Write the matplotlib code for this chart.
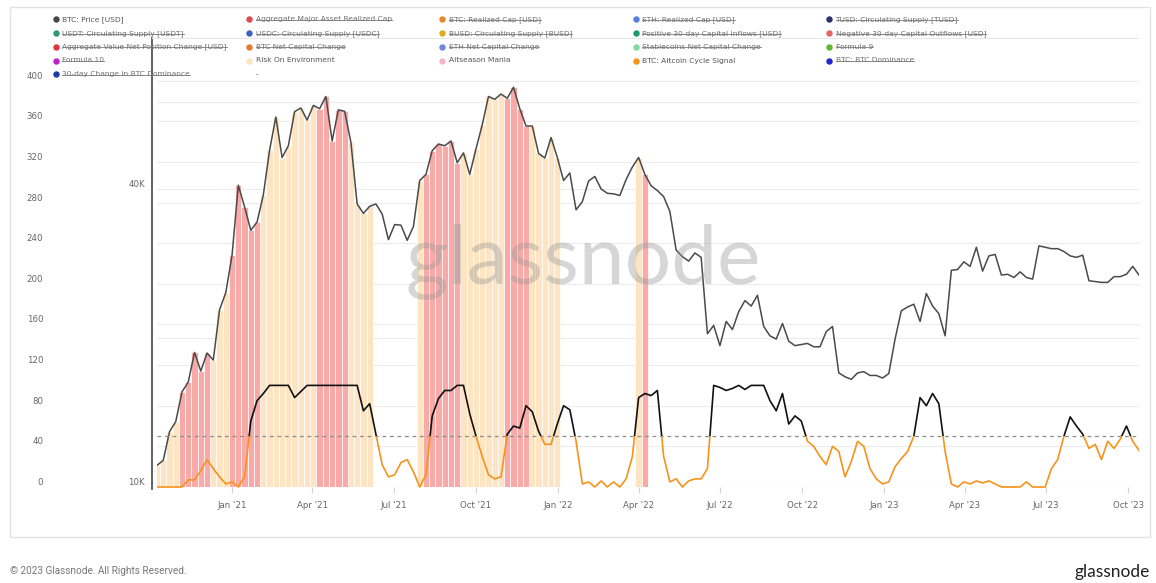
import matplotlib.pyplot as plt
import matplotlib.dates as mdates
import numpy as np
import pandas as pd
from matplotlib.lines import Line2D
from matplotlib.patches import Rectangle
from matplotlib.ticker import NullLocator
from matplotlib.transforms import Bbox, TransformedBbox

W, H = 1156, 583

# weekly samples, starting 2020-10-09
start_date = "2020-10-09"
btc_price = [
    11060, 11320, 12930, 13560, 15570, 16300, 18700, 17150, 18650, 18050,
    22800, 24700, 29400, 40700, 36800, 33000, 34300, 38900, 47900, 55900,
    46300, 48900, 57300, 58300, 55100, 59000, 58100, 61500, 50000, 57800,
    57400, 49700, 37300, 35700, 36900, 37300, 35600, 31600, 33900, 33800,
    31500, 33600, 41600, 42800, 47800, 49300, 48900, 50000, 45200, 47300,
    42800, 48200, 53900, 61500, 60700, 62200, 61000, 64200, 58100, 53600,
    53600, 47200, 46200, 50800, 46300, 41600, 43100, 36300, 37700, 41500,
    42400, 40000, 39200, 39100, 38800, 41800, 44300, 46300, 42800, 40600,
    39700, 38600, 36000, 30100, 29200, 28600, 29700, 29100, 20400, 21200,
    19300, 21600, 20800, 22600, 23800, 23200, 24400, 21100, 20200, 19900,
    21400, 19700, 19300, 19400, 19500, 19200, 19200, 20600, 21100, 17000,
    16700, 16500, 17000, 17100, 16800, 16800, 16600, 16950, 19900, 22700,
    23100, 23400, 21600, 24600, 23200, 22400, 20200, 27400, 27500, 28500,
    27900, 30500, 27300, 29300, 29500, 26800, 26900, 26500, 27200, 26500,
    26300, 30700, 30500, 30300, 30300, 29900, 29300, 29100, 29400, 26100,
    26000, 25900, 25900, 26600, 26600, 26900, 27900, 26800,
]
cycle_signal = [
    0, 0, 0, 0, 0, 7, 7, 16, 27, 18,
    10, 3, 5, 0, 10, 65, 85, 92, 100, 100,
    100, 100, 88, 94, 100, 100, 100, 100, 100, 100,
    100, 100, 100, 75, 82, 52, 22, 10, 12, 24,
    27, 15, 0, 12, 70, 87, 95, 95, 100, 100,
    72, 50, 30, 12, 8, 10, 52, 60, 58, 80,
    74, 55, 42, 42, 62, 80, 76, 45, 3, 5,
    0, 6, 0, 5, 0, 8, 30, 88, 92, 90,
    95, 30, 5, 8, 0, 6, 8, 8, 18, 100,
    98, 95, 97, 100, 96, 100, 100, 100, 85, 75,
    92, 62, 70, 65, 45, 40, 30, 22, 40, 35,
    10, 25, 45, 40, 18, 8, 3, 5, 20, 28,
    35, 50, 88, 80, 92, 82, 35, 3, 0, 5,
    3, 6, 4, 6, 3, 0, 0, 0, 0, 5,
    0, 0, 0, 18, 27, 50, 69, 60, 52, 38,
    42, 27, 45, 38, 47, 60, 45, 36,
]
risk_on_weeks = [
    ("2020-10-09", "2020-10-30"), ("2020-12-11", "2020-12-25"),
    ("2021-02-05", "2021-04-02"), ("2021-05-14", "2021-06-04"),
    ("2021-07-30", "2021-07-30"), ("2021-09-17", "2021-10-29"),
    ("2021-12-03", "2021-12-31"), ("2022-04-01", "2022-04-01"),
]
mania_weeks = [
    ("2020-11-06", "2020-12-04"), ("2021-01-01", "2021-01-29"),
    ("2021-04-09", "2021-05-07"), ("2021-08-06", "2021-09-10"),
    ("2021-11-05", "2021-11-26"), ("2022-04-08", "2022-04-08"),
]
signal_threshold = 50
signal_ticks = list(range(0, 401, 40))
price_ticks = [10000, 20000, 40000, 60000]
price_tick_labels = ["10K", "", "40K", ""]

legend_labels = [
    "BTC: Price [USD]", "Aggregate Major Asset Realized Cap", "BTC: Realized Cap [USD]",
    "ETH: Realized Cap [USD]", "TUSD: Circulating Supply [TUSD]",
    "USDT: Circulating Supply [USDT]", "USDC: Circulating Supply [USDC]",
    "BUSD: Circulating Supply [BUSD]", "Positive 30-day Capital Inflows [USD]",
    "Negative 30-day Capital Outflows [USD]",
    "Aggregate Value Net Position Change [USD]", "BTC Net Capital Change",
    "ETH Net Capital Change", "Stablecoins Net Capital Change", "Formula 9",
    "Formula 10", "Risk On Environment", "Altseason Mania", "BTC: Altcoin Cycle Signal",
    "BTC: BTC Dominance",
    "30-day Change in BTC Dominance", "-",
]
legend_colors = [
    "#474747", "#e2474d", "#e8862c", "#5d7dd6", "#2d3070",
    "#2f9a70", "#3b63c2", "#e1aa1e", "#1f9b6b", "#e46464",
    "#e2333f", "#e8782c", "#7089d8", "#80d9a2", "#5db82f",
    "#c420c9", "#fde3c0", "#f5b7c7", "#f7931a", "#2424d0",
    "#1b3ba8", None,
]
legend_active = [
    True, False, False, False, False,
    False, False, False, False, False,
    False, False, False, False, False,
    False, True, True, True, False,
    False, True,
]

dates = pd.date_range(start_date, periods=len(btc_price), freq="7D")
price = np.array(btc_price, dtype=float)
signal = np.array(cycle_signal, dtype=float)


def in_periods(periods):
    mask = np.zeros(len(dates), dtype=bool)
    for a, b in periods:
        mask |= (dates >= pd.Timestamp(a)) & (dates <= pd.Timestamp(b))
    return mask


def fx(x):
    return x / W


def fy(y):
    return 1 - y / H


fig = plt.figure(figsize=(W / 100, H / 100), dpi=100)
fig.patch.set_facecolor("white")

# card frame
fig.add_artist(Rectangle((fx(10), fy(537)), (1150 - 10) / W, (537 - 7) / H,
                         transform=fig.transFigure, fill=False,
                         edgecolor="#e3e3e3", linewidth=1))

x0, x1, ytop, ybot = 157, 1139, 75, 487
sig_top = 405.5
price_lim = (10000, 67960)

ax = fig.add_axes([fx(x0), fy(ybot), (x1 - x0) / W, (ybot - ytop) / H])
ax.set_ylim(0, sig_top)
ax.set_xlim(dates[0], dates[-1])
ax.set_yticks(signal_ticks)
ax.grid(axis="y", color="#ececec", linewidth=0.8)
ax.tick_params(axis="y", length=0, pad=82, labelsize=6.2, labelcolor="#666666")
for lbl in ax.get_yticklabels():
    lbl.set_va("bottom")
ax.xaxis.set_major_locator(mdates.MonthLocator(bymonth=[1, 4, 7, 10]))
ax.xaxis.set_major_formatter(mdates.DateFormatter("%b '%y"))
ax.tick_params(axis="x", length=4, color="#d6d6d6", labelsize=6.2,
               labelcolor="#666666", pad=6)
for s in ax.spines.values():
    s.set_visible(False)

# price axis (log) with regime bars
axp = ax.twinx()
axp.set_yscale("log")
axp.set_ylim(*price_lim)
axp.set_axisbelow(True)
axp.yaxis.tick_left()
axp.set_yticks(price_ticks, price_tick_labels)
axp.yaxis.set_minor_locator(NullLocator())
axp.tick_params(axis="y", which="both", length=0, pad=8.6, labelsize=6.2,
                labelcolor="#666666")
for lbl in axp.get_yticklabels():
    lbl.set_va("bottom")
axp.grid(axis="y", color="#ececec", linewidth=0.8)
for s in axp.spines.values():
    s.set_visible(False)

risk = in_periods(risk_on_weeks)
mania = in_periods(mania_weeks)
axp.bar(dates[risk], price[risk] - price_lim[0], bottom=price_lim[0], width=7,
        color="#fde4c2", edgecolor="white", linewidth=0.5)
axp.bar(dates[mania], price[mania] - price_lim[0], bottom=price_lim[0], width=7,
        color="#f7aaa7", edgecolor="white", linewidth=0.5)
axp.plot(dates, price, color="#4a4a4a", linewidth=1.1)

# altcoin cycle signal, black above threshold, orange below
axs = ax.twinx()
axs.set_ylim(0, sig_top)
axs.set_yticks([])
for s in axs.spines.values():
    s.set_visible(False)
axs.axhline(signal_threshold, color="#8c8c8c", linewidth=0.9, linestyle=(0, (3, 3)))
lo, = axs.plot(dates, signal, color="#f7931a", linewidth=1.2)
hi, = axs.plot(dates, signal, color="#111111", linewidth=1.2)
lo.set_clip_box(TransformedBbox(Bbox([[0, -20], [1, signal_threshold]]),
                                axs.get_yaxis_transform()))
hi.set_clip_box(TransformedBbox(Bbox([[0, signal_threshold], [1, sig_top + 20]]),
                                axs.get_yaxis_transform()))

# cursor line and legend separator
fig.add_artist(Line2D([fx(152), fx(152)], [fy(38), fy(489)], color="#555555",
                      linewidth=1.3))
fig.add_artist(Line2D([fx(152), fx(1138)], [fy(38), fy(38)], color="#e8e8e8",
                      linewidth=0.8))

# watermark
fig.text(fx(583), fy(262), "glassnode", fontsize=59, color="#9a9a9a", alpha=0.4,
         ha="center", va="center", family="Lato")

# legend
col_x = [55.7, 249.3, 442.3, 635.7, 829.0]
row_y = [19.3, 33.3, 47.0, 60.5, 74.3]
renderer = fig.canvas.get_renderer()
for k, (label, color, active) in enumerate(zip(legend_labels, legend_colors, legend_active)):
    r, c = divmod(k, 5)
    x, y = col_x[c], row_y[r]
    if color is not None:
        fig.add_artist(Line2D([fx(x)], [fy(y)], marker="o", markersize=3.6,
                              color=color, linestyle="none"))
    t = fig.text(fx(x + 6.5), fy(y), label, fontsize=5.4,
                 color="#555555" if active else "#707070", ha="left", va="center")
    if not active:
        bb = t.get_window_extent(renderer)
        fig.add_artist(Line2D([fx(bb.x0), fx(bb.x1)], [fy(y + 0.3), fy(y + 0.3)],
                              color="#7a7a7a", linewidth=0.6))

# footer
fig.text(fx(10), fy(571), "\u00a9 2023 Glassnode. All Rights Reserved.",
         fontsize=7.2, color="#777777", ha="left", va="center", family="Roboto")
fig.text(fx(1150), fy(572), "glassnode", fontsize=12.5, color="#222222",
         ha="right", va="center", family="Lato")

fig.savefig("out.png", dpi=100, facecolor="white")
